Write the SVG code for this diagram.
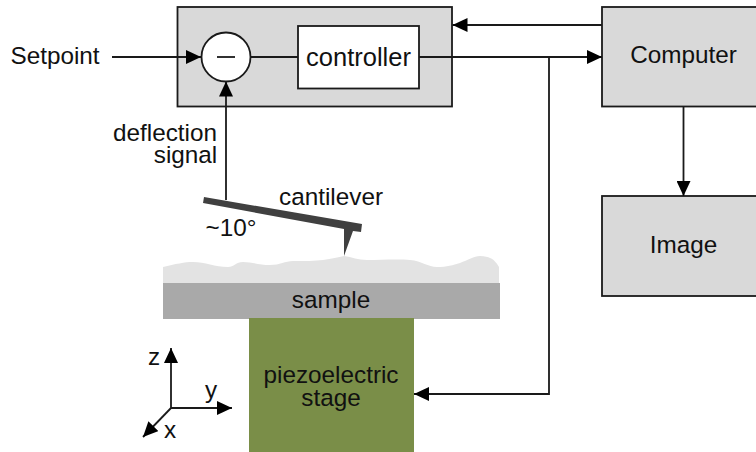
<svg xmlns="http://www.w3.org/2000/svg" width="756" height="452" viewBox="0 0 756 452">
<style>
text{font-family:"Liberation Sans",Arial,sans-serif;font-size:24.300px;fill:#111;text-anchor:middle}
.box{fill:#d9d9d9;stroke:#1a1a1a;stroke-width:1.800}
.w{fill:#fff;stroke:#1a1a1a;stroke-width:1.800}
.c{fill:none;stroke:#1a1a1a;stroke-width:1.800}
.a{fill:none;stroke:#1a1a1a;stroke-width:1.800;marker-end:url(#m)}
</style>
<defs><marker id="m" markerUnits="userSpaceOnUse" markerWidth="16" markerHeight="14" refX="15" refY="7" orient="auto"><path d="M0,0L15,7L0,14z" fill="#000"/></marker></defs>
<rect width="756" height="452" fill="#fff"/>
<g id="feedback-box"><rect class="box" x="177.500" y="7" width="274.500" height="99.500"/></g>
<g id="computer"><rect class="box" x="602" y="7" width="160" height="99.500"/><text x="683.500" y="63">Computer</text></g>
<g id="image"><rect class="box" x="602" y="196" width="160" height="100"/><text x="683.500" y="253">Image</text></g>
<g id="connectors">
<path class="a" d="M112,57H201"/>
<path class="c" d="M250,57H298"/>
<path class="a" d="M419,57H602"/>
<path class="a" d="M602,25H452.500"/>
<path class="a" d="M549,57V394H414"/>
<path class="a" d="M683.500,106.500V196"/>
<path class="a" d="M226,200V81.500"/>
</g>
<g id="subtractor"><circle class="w" cx="226" cy="57" r="24.500"/><path class="c" d="M217,57H235"/></g>
<g id="controller"><rect class="w" x="298" y="26" width="121" height="62.500"/><text x="358.500" y="66" style="font-size:25.500px">controller</text></g>
<g id="setpoint"><text x="55" y="64">Setpoint</text></g>
<g id="deflection-signal"><text y="141"><tspan x="165">deflection</tspan><tspan x="185.500" dy="22">signal</tspan></text></g>
<g id="surface"><path d="M163,267C175,264 185,262 193,262C205,262 215,267 228,267C234,267 236,262 243,262C252,262 260,265 270,265C280,265 285,261 293,261C305,261 315,261 323,260C332,259 338,257 344,256C352,257 358,260 367,260C380,260 398,259 410,260C422,261 428,267 437,267C447,267 453,265 460,263C468,260 474,256 480,256C485,256 488,257 490,258C495,260 497,264 499,267V283H163Z" fill="#e3e3e3"/></g>
<g id="cantilever"><path d="M204,197L362,224L361,232L353,231L344,256L344,229L203,203Z" fill="#404040"/><text x="331" y="205">cantilever</text><text x="231" y="236">~10°</text></g>
<g id="sample"><rect x="163" y="283" width="337" height="36" fill="#a9a9a9"/><text x="331" y="308">sample</text></g>
<g id="stage"><rect x="249" y="318" width="165" height="134" fill="#7a8e48"/><text y="383"><tspan x="331">piezoelectric</tspan><tspan x="331" dy="23">stage</tspan></text></g>
<g id="axes">
<path class="a" d="M171,408V348"/><path class="a" d="M171,408H232"/><path class="a" d="M171,408L143,437"/>
<text x="154" y="365">z</text><text x="211" y="398">y</text><text x="170" y="438">x</text>
</g>
</svg>
